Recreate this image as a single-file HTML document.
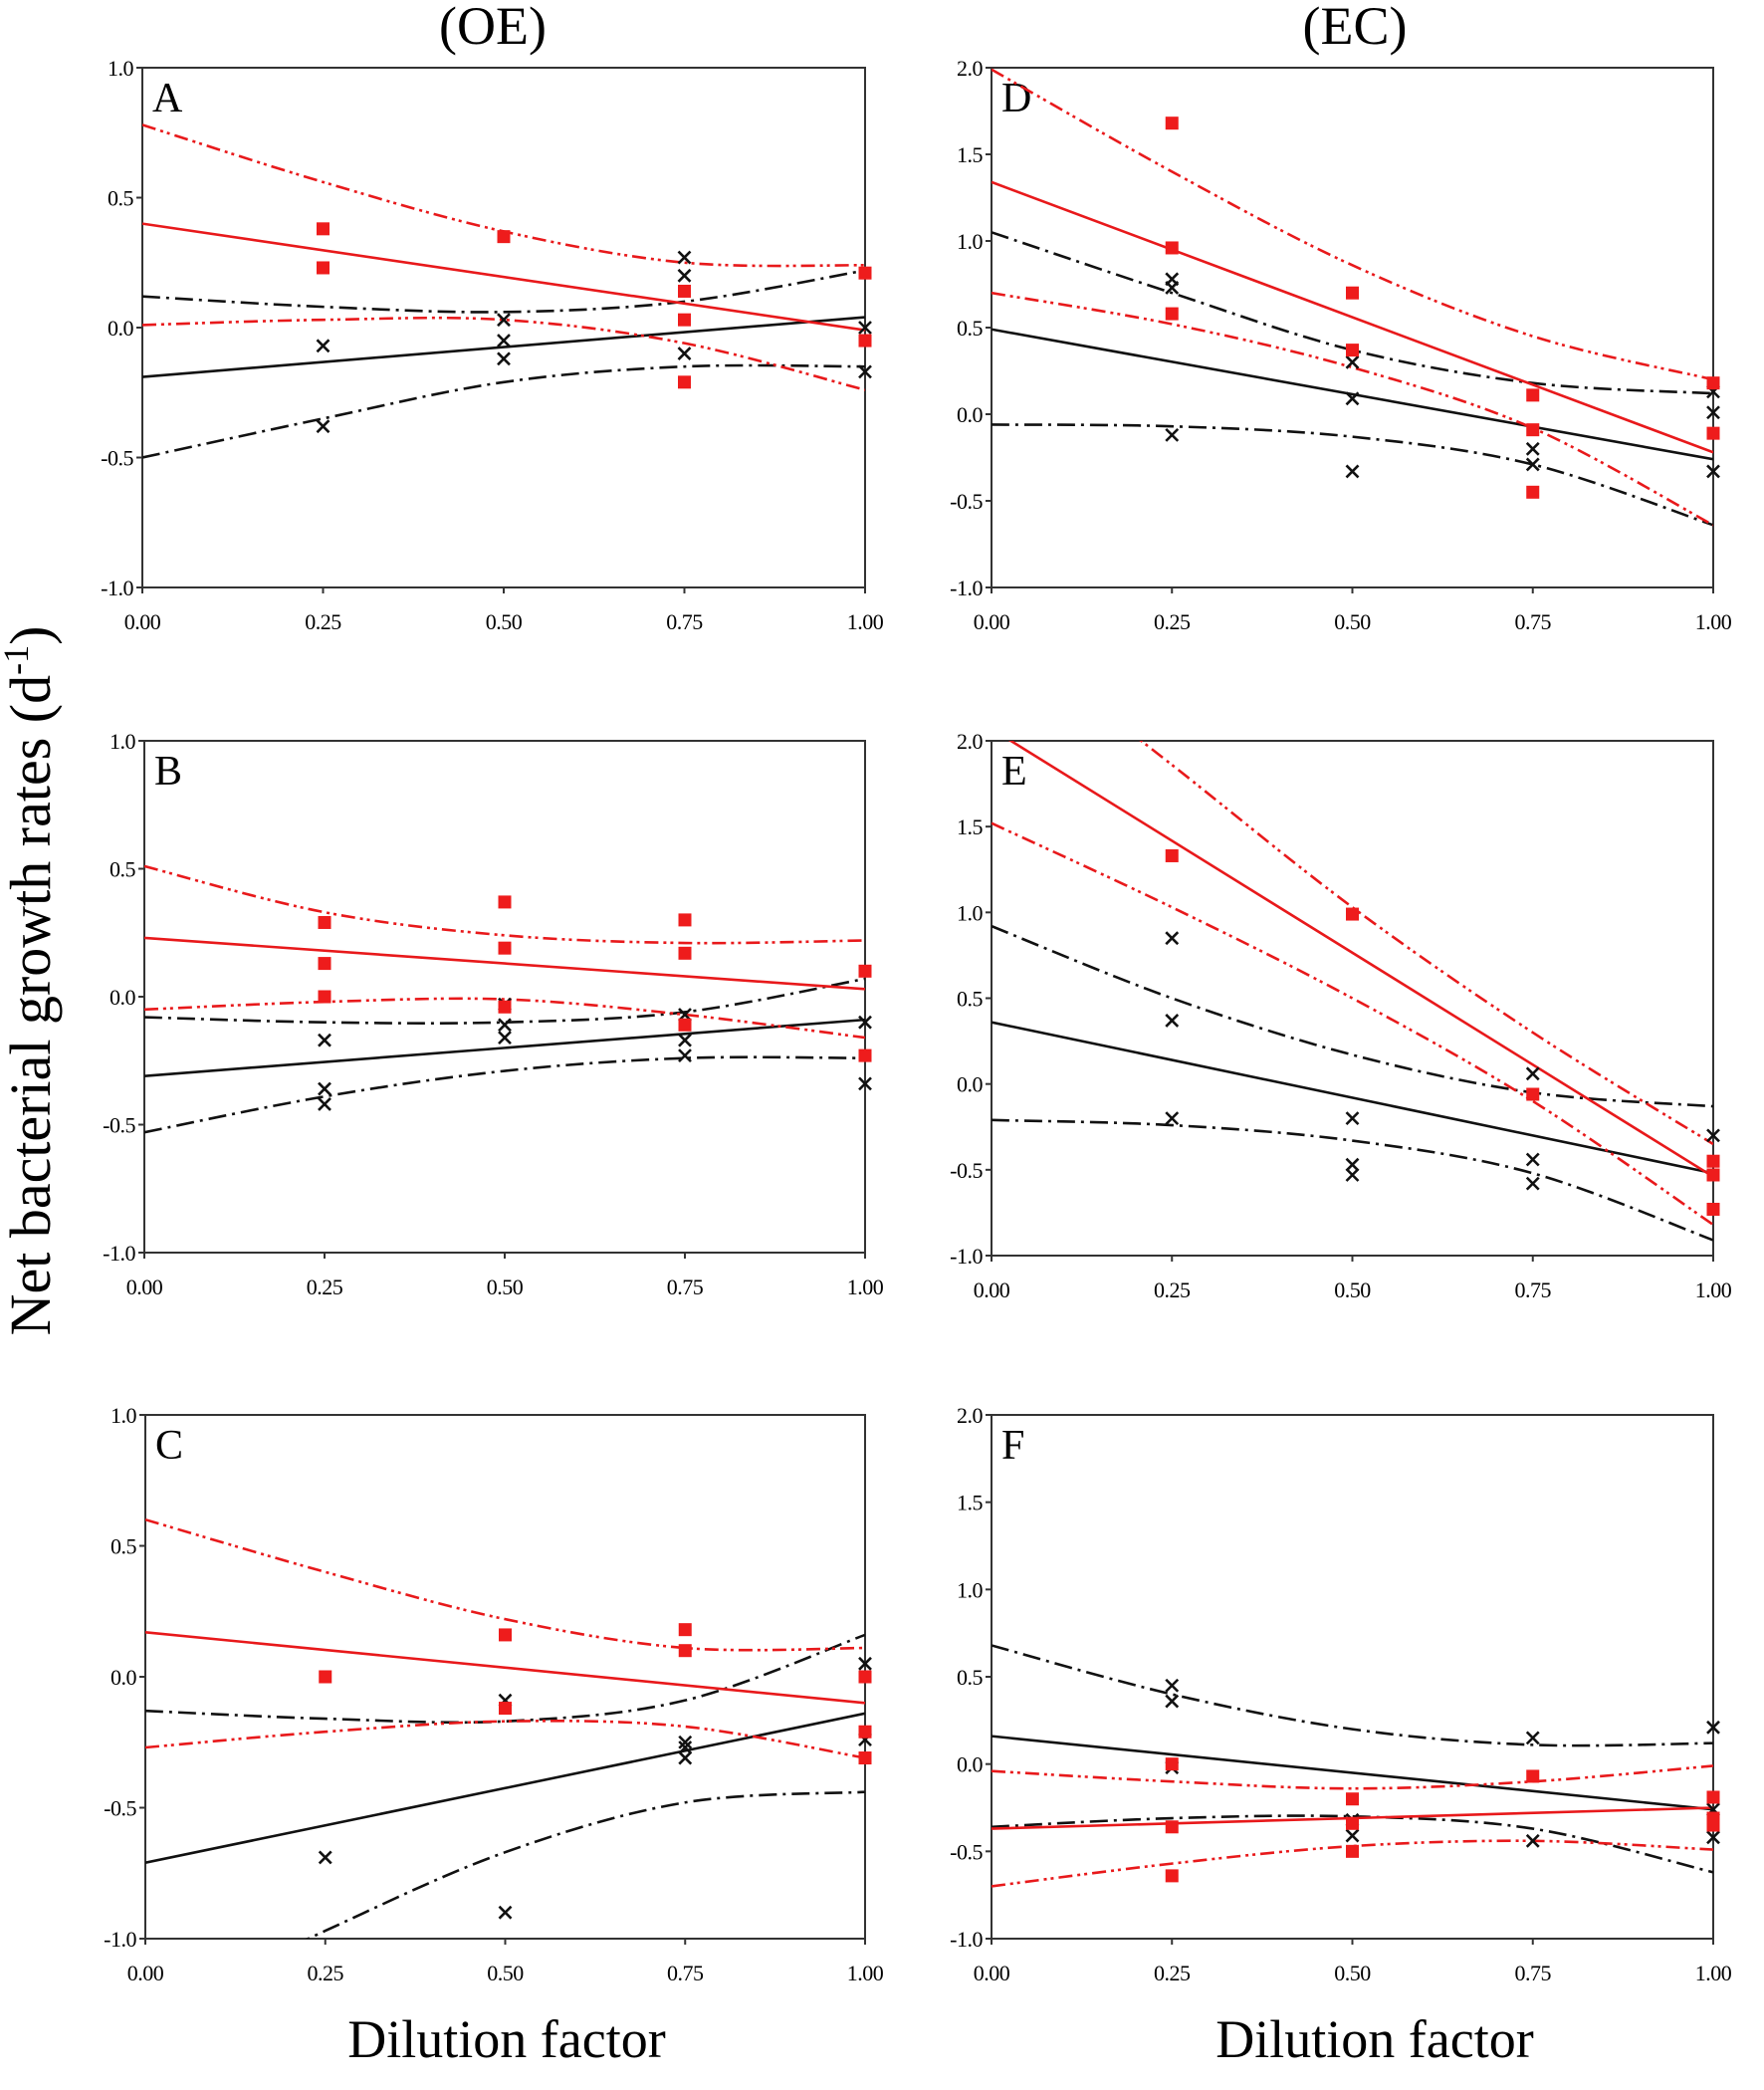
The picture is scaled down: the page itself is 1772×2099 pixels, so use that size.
<!DOCTYPE html>
<html><head><meta charset="utf-8"><style>
html,body{margin:0;padding:0;background:#fff;}
svg{display:block;font-family:"Liberation Serif",serif;}
</style></head><body>
<svg id="fig" width="1772" height="2099" viewBox="0 0 1772 2099" xmlns="http://www.w3.org/2000/svg">
<text x="495" y="44" font-size="54" text-anchor="middle">(OE)</text>
<text x="1361" y="44" font-size="54" text-anchor="middle">(EC)</text>
<text x="509" y="2066" font-size="54" text-anchor="middle">Dilution factor</text>
<text x="1381" y="2066" font-size="54" text-anchor="middle">Dilution factor</text>
<text transform="translate(50,985) rotate(-90)" font-size="58" text-anchor="middle">Net bacterial growth rates (d<tspan font-size="36" dy="-22">-1</tspan><tspan dy="22">)</tspan></text>
</svg>
<script>
// ---- data (x positions 0,0.25,0.5,0.75,1 for curves) ----
const xTicks = [0, 0.25, 0.5, 0.75, 1];
const xTickLabels = ["0.00", "0.25", "0.50", "0.75", "1.00"];
const yTicksOE = [-1, -0.5, 0, 0.5, 1];
const yTickLabelsOE = ["-1.0", "-0.5", "0.0", "0.5", "1.0"];
const yTicksEC = [-1, -0.5, 0, 0.5, 1, 1.5, 2];
const yTickLabelsEC = ["-1.0", "-0.5", "0.0", "0.5", "1.0", "1.5", "2.0"];
const curveX = [0, 0.25, 0.5, 0.75, 1];

// Panel A
const A_redPts = [[0.25,0.38],[0.25,0.23],[0.5,0.35],[0.75,0.14],[0.75,0.03],[0.75,-0.21],[1,0.21],[1,-0.05]];
const A_blackPts = [[0.25,-0.07],[0.25,-0.38],[0.5,0.03],[0.5,-0.05],[0.5,-0.12],[0.75,0.27],[0.75,0.2],[0.75,-0.1],[1,0],[1,-0.17]];
const A_redFit = [0.40, -0.01];
const A_redUpper = [0.78,0.56,0.37,0.25,0.24];
const A_redLower = [0.01,0.03,0.03,-0.06,-0.24];
const A_blackFit = [-0.19, 0.04];
const A_blackUpper = [0.12,0.08,0.06,0.10,0.22];
const A_blackLower = [-0.50,-0.35,-0.21,-0.15,-0.15];
// Panel B
const B_redPts = [[0.25,0.29],[0.25,0.13],[0.25,0.0],[0.5,0.37],[0.5,0.19],[0.5,-0.04],[0.75,0.3],[0.75,0.17],[0.75,-0.11],[1,0.1],[1,-0.23]];
const B_blackPts = [[0.25,-0.17],[0.25,-0.36],[0.25,-0.42],[0.5,-0.03],[0.5,-0.11],[0.5,-0.16],[0.75,-0.07],[0.75,-0.17],[0.75,-0.23],[1,-0.1],[1,-0.34]];
const B_redFit = [0.23, 0.03];
const B_redUpper = [0.51,0.33,0.24,0.21,0.22];
const B_redLower = [-0.05,-0.02,-0.01,-0.07,-0.16];
const B_blackFit = [-0.31, -0.09];
const B_blackUpper = [-0.08,-0.10,-0.10,-0.06,0.07];
const B_blackLower = [-0.53,-0.39,-0.29,-0.24,-0.24];
// Panel C
const C_redPts = [[0.25,0.0],[0.5,0.16],[0.5,-0.12],[0.75,0.18],[0.75,0.1],[1,0],[1,-0.21],[1,-0.31]];
const C_blackPts = [[0.25,-0.69],[0.5,-0.09],[0.5,-0.9],[0.75,-0.25],[0.75,-0.27],[0.75,-0.31],[1,0.05],[1,-0.24]];
const C_redFit = [0.17, -0.1];
const C_redUpper = [0.6,0.4,0.22,0.11,0.11];
const C_redLower = [-0.27,-0.21,-0.17,-0.19,-0.31];
const C_blackFit = [-0.71, -0.14];
const C_blackUpper = [-0.13,-0.16,-0.17,-0.09,0.16];
const C_blackLower = [-1.3,-0.97,-0.67,-0.48,-0.44];
// Panel D
const D_redPts = [[0.25,1.68],[0.25,0.96],[0.25,0.58],[0.5,0.7],[0.5,0.37],[0.75,0.11],[0.75,-0.09],[0.75,-0.45],[1,0.18],[1,-0.11]];
const D_blackPts = [[0.25,0.78],[0.25,0.73],[0.25,-0.12],[0.5,0.3],[0.5,0.09],[0.5,-0.33],[0.75,-0.2],[0.75,-0.29],[1,0.13],[1,0.01],[1,-0.33]];
const D_redFit = [1.34, -0.22];
const D_redUpper = [1.99,1.40,0.86,0.45,0.20];
const D_redLower = [0.70,0.52,0.27,-0.08,-0.64];
const D_blackFit = [0.49, -0.26];
const D_blackUpper = [1.05,0.70,0.37,0.18,0.12];
const D_blackLower = [-0.06,-0.07,-0.13,-0.29,-0.64];
// Panel E
const E_redPts = [[0.25,1.33],[0.5,0.99],[0.75,-0.06],[1,-0.45],[1,-0.53],[1,-0.73]];
const E_blackPts = [[0.25,0.85],[0.25,0.37],[0.25,-0.2],[0.5,-0.2],[0.5,-0.47],[0.5,-0.53],[0.75,0.06],[0.75,-0.44],[0.75,-0.58],[1,-0.3]];
const E_redFit = [2.07, -0.54];
const E_redUpper = [2.68,1.86,1.03,0.3,-0.35];
const E_redLower = [1.52,1.03,0.5,-0.1,-0.82];
const E_blackFit = [0.36, -0.52];
const E_blackUpper = [0.92,0.5,0.17,-0.05,-0.13];
const E_blackLower = [-0.21,-0.24,-0.33,-0.52,-0.91];
// Panel F
const F_redPts = [[0.25,0.0],[0.25,-0.36],[0.25,-0.64],[0.5,-0.2],[0.5,-0.34],[0.5,-0.5],[0.75,-0.07],[1,-0.19],[1,-0.31],[1,-0.35]];
const F_blackPts = [[0.25,0.45],[0.25,0.36],[0.25,-0.02],[0.5,-0.32],[0.5,-0.41],[0.75,0.15],[0.75,-0.44],[1,0.21],[1,-0.42],[1,-0.26]];
const F_redFit = [-0.37, -0.25];
const F_redUpper = [-0.04,-0.10,-0.14,-0.10,-0.01];
const F_redLower = [-0.70,-0.57,-0.47,-0.44,-0.49];
const F_blackFit = [0.16, -0.26];
const F_blackUpper = [0.68,0.40,0.20,0.11,0.12];
const F_blackLower = [-0.36,-0.31,-0.30,-0.37,-0.62];

const NS = "http://www.w3.org/2000/svg";
const svg = document.getElementById("fig");
function mk(tag, attrs, parent) {
  const e = document.createElementNS(NS, tag);
  for (const k in attrs) e.setAttribute(k, attrs[k]);
  (parent || svg).appendChild(e);
  return e;
}

function smoothPath(pts) {
  let d = "M" + pts[0][0] + "," + pts[0][1];
  for (let i = 0; i < pts.length - 1; i++) {
    const p0 = pts[i - 1] || pts[i], p1 = pts[i], p2 = pts[i + 1], p3 = pts[i + 2] || p2;
    const c1x = p1[0] + (p2[0] - p0[0]) / 6, c1y = p1[1] + (p2[1] - p0[1]) / 6;
    const c2x = p2[0] - (p3[0] - p1[0]) / 6, c2y = p2[1] - (p3[1] - p1[1]) / 6;
    d += " C" + c1x + "," + c1y + " " + c2x + "," + c2y + " " + p2[0] + "," + p2[1];
  }
  return d;
}

function panel(p) {
  const g = mk("g", {});
  
  
  const sx = v => p.left + (v - 0) * (p.right - p.left);
  const sy = v => p.bottom - (v - p.ymin) / (p.ymax - p.ymin) * (p.bottom - p.top);
  const clipId = "clip" + p.id;
  const cp = mk("clipPath", {id: clipId}, g);
  mk("rect", {x: p.left, y: p.top, width: p.right - p.left, height: p.bottom - p.top}, cp);

  const fr = mk("rect", {x: p.left, y: p.top, width: p.right - p.left, height: p.bottom - p.top, fill: "none", stroke: "#333", "stroke-width": 2}, g);
  
  
  p.yTicks.forEach((v, i) => {
    mk("line", {x1: p.left - 6, x2: p.left, y1: sy(v), y2: sy(v), stroke: "#333", "stroke-width": 2}, g);
    const t = mk("text", {x: p.left - 9, y: sy(v) + 8, "font-size": 22, "text-anchor": "end", "letter-spacing": "-0.5"}, g);
    
    
    t.textContent = p.yLabels[i];
  });
  xTicks.forEach((v, i) => {
    mk("line", {x1: sx(v), x2: sx(v), y1: p.bottom, y2: p.bottom + 6, stroke: "#333", "stroke-width": 2}, g);
    const t = mk("text", {x: sx(v), y: p.bottom + 42, "font-size": 22, "text-anchor": "middle", "letter-spacing": "-0.5"}, g);
    
    
    t.textContent = xTickLabels[i];
  });
  const lab = mk("text", {x: p.left + 10, y: p.top + 44, "font-size": 42}, g);
  
  
  lab.textContent = p.id;

  const inner = mk("g", {"clip-path": "url(#" + clipId + ")"}, g);
  function curve(vals, color, dash, name) {
    const pts = curveX.map((x, i) => [sx(x), sy(vals[i])]);
    const e = mk("path", {d: smoothPath(pts), fill: "none", stroke: color, "stroke-width": 2.6, "stroke-dasharray": dash}, inner);
    
    
  }
  function fit(vals, color, name) {
    const e = mk("line", {x1: sx(0), y1: sy(vals[0]), x2: sx(1), y2: sy(vals[1]), stroke: color, "stroke-width": 2.6}, inner);
    
    
  }
  const blackDash = "18,6,3,6";
  const redDash = "14,5,3,4,3,5";
  curve(p.blackUpper, "#111", blackDash, "black-ci-upper");
  curve(p.blackLower, "#111", blackDash, "black-ci-lower");
  fit(p.blackFit, "#111", "black-regression-line");
  curve(p.redUpper, "#e8191b", redDash, "red-ci-upper");
  curve(p.redLower, "#e8191b", redDash, "red-ci-lower");
  fit(p.redFit, "#e8191b", "red-regression-line");

  p.blackPts.forEach(pt => {
    const x = sx(pt[0]), y = sy(pt[1]), r = 6;
    const e = mk("path", {d: `M${x-r},${y-r}L${x+r},${y+r}M${x+r},${y-r}L${x-r},${y+r}`, stroke: "#111", "stroke-width": 2.6, fill: "none"}, g);
    
    
  });
  p.redPts.forEach(pt => {
    const x = sx(pt[0]), y = sy(pt[1]);
    const e = mk("rect", {x: x - 6.5, y: y - 6.5, width: 13, height: 13, fill: "#ee1c1c"}, g);
    
    
  });
}

panel({id:"A", left:143, right:869, top:68, bottom:590, ymin:-1, ymax:1, yTicks:yTicksOE, yLabels:yTickLabelsOE,
  redPts:A_redPts, blackPts:A_blackPts, redFit:A_redFit, redUpper:A_redUpper, redLower:A_redLower, blackFit:A_blackFit, blackUpper:A_blackUpper, blackLower:A_blackLower});
panel({id:"B", left:145, right:869, top:744, bottom:1258, ymin:-1, ymax:1, yTicks:yTicksOE, yLabels:yTickLabelsOE,
  redPts:B_redPts, blackPts:B_blackPts, redFit:B_redFit, redUpper:B_redUpper, redLower:B_redLower, blackFit:B_blackFit, blackUpper:B_blackUpper, blackLower:B_blackLower});
panel({id:"C", left:146, right:869, top:1421, bottom:1947, ymin:-1, ymax:1, yTicks:yTicksOE, yLabels:yTickLabelsOE,
  redPts:C_redPts, blackPts:C_blackPts, redFit:C_redFit, redUpper:C_redUpper, redLower:C_redLower, blackFit:C_blackFit, blackUpper:C_blackUpper, blackLower:C_blackLower});
panel({id:"D", left:996, right:1721, top:68, bottom:590, ymin:-1, ymax:2, yTicks:yTicksEC, yLabels:yTickLabelsEC,
  redPts:D_redPts, blackPts:D_blackPts, redFit:D_redFit, redUpper:D_redUpper, redLower:D_redLower, blackFit:D_blackFit, blackUpper:D_blackUpper, blackLower:D_blackLower});
panel({id:"E", left:996, right:1721, top:744, bottom:1261, ymin:-1, ymax:2, yTicks:yTicksEC, yLabels:yTickLabelsEC,
  redPts:E_redPts, blackPts:E_blackPts, redFit:E_redFit, redUpper:E_redUpper, redLower:E_redLower, blackFit:E_blackFit, blackUpper:E_blackUpper, blackLower:E_blackLower});
panel({id:"F", left:996, right:1721, top:1421, bottom:1947, ymin:-1, ymax:2, yTicks:yTicksEC, yLabels:yTickLabelsEC,
  redPts:F_redPts, blackPts:F_blackPts, redFit:F_redFit, redUpper:F_redUpper, redLower:F_redLower, blackFit:F_blackFit, blackUpper:F_blackUpper, blackLower:F_blackLower});
</script>
</body></html>
